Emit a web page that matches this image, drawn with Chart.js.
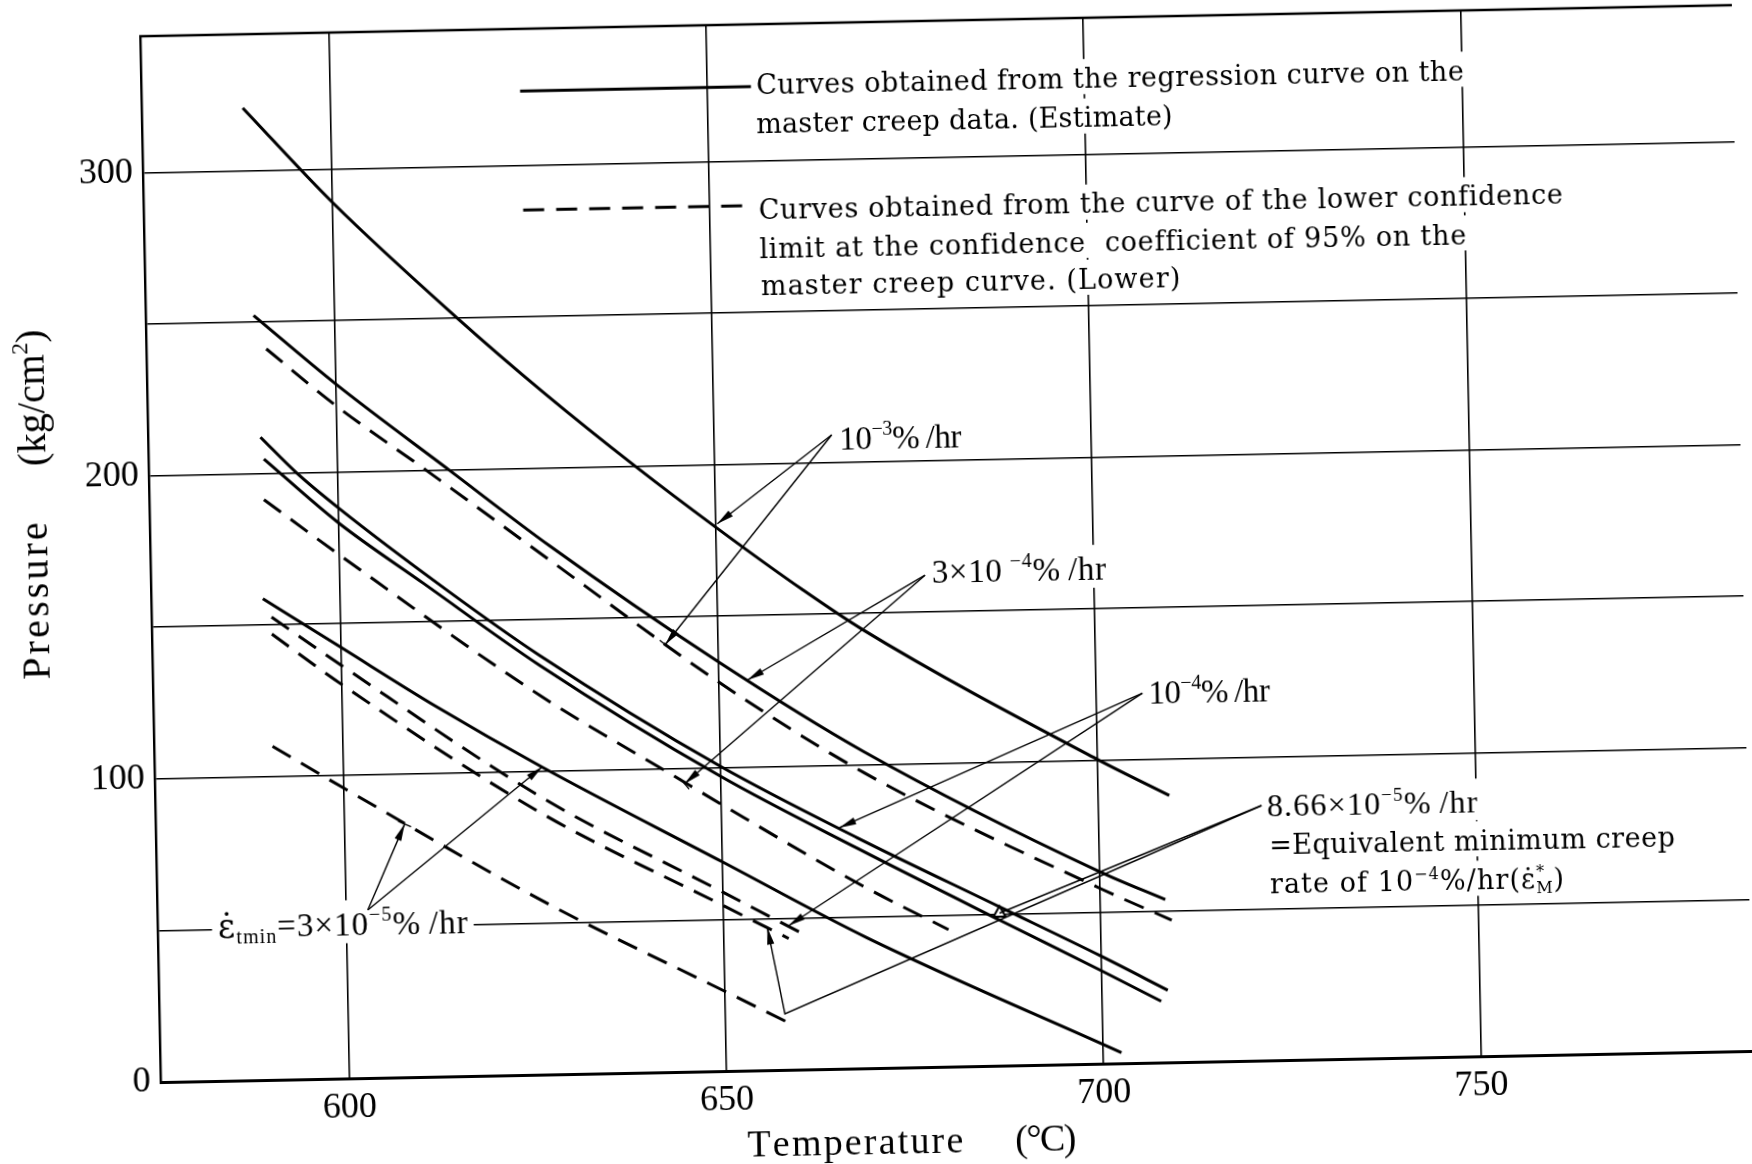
<!DOCTYPE html>
<html>
<head>
<meta charset="utf-8">
<title>Creep rate curves: pressure vs temperature</title>
<script src="https://cdn.jsdelivr.net/npm/chart.js@4.4.1/dist/chart.umd.min.js"></script>
<style>
  html, body { margin: 0; padding: 0; background: #ffffff; overflow: hidden; }
  /* the printed sheet sits slightly askew */
  #c { display: block; width: 1752px; height: 1164px; transform: rotate(-1.12deg); transform-origin: 876px 582px; }
</style>
</head>
<body>
<canvas id="c" width="1752" height="1164"></canvas>
<script>
// ---- Curve data: temperature (°C) and pressure (kg/cm²) ----
// Estimate curves (regression on master creep data), solid
const tEst1e3 = [588.4, 600, 616.3, 627.5, 639.5, 650, 661.3, 669, 700, 709.4];
const pEst1e3 = [320.7, 289.1, 250, 225, 200, 179.4, 158.3, 145, 100.3, 88];

const tEst3e4 = [589.3, 600, 614.8, 627.9, 650, 669, 700, 708.6];
const pEst3e4 = [252.2, 229.1, 200, 174.4, 135, 104.5, 63.3, 53.7];

const tEst1e4 = [589.9, 594.6, 600, 614.1, 626.3, 650, 668, 686.6, 700, 708.7];
const pEst1e4 = [212, 200, 188.3, 160.6, 138.3, 100.5, 76, 52.4, 35.4, 23.8];

const tEst866e5 = [590.3, 600, 611.1, 626.3, 650, 668, 686.6, 700, 707.8];
const pEst866e5 = [204.8, 183.3, 162.8, 135, 97.2, 72.5, 48, 30.6, 20.2];

const tEst3e5 = [589.8, 600, 612.4, 626.3, 650, 669, 702.4];
const pEst3e5 = [158.7, 142.2, 122.2, 101.5, 69, 43, 3.5];

// Lower confidence limit curves (95 %), dashed
const tLow1e3 = [590.9, 600, 611.8, 628.5, 650, 669, 700, 709.4];
const pLow1e3 = [241.1, 221.9, 200, 168.5, 128.3, 97.5, 57.8, 46.9];

const tLow3e4 = [590.2, 600, 626.3, 645.2, 650, 669, 679.8];
const pLow3e4 = [191.4, 172.8, 125, 95.5, 88, 59.5, 45.2];

const tLow1e4 = [590.9, 600, 626.5, 650, 660.3];
const pLow1e4 = [152.6, 136.3, 91, 59, 45];

const tLow866e5 = [590.9, 600, 626.3, 650, 658.6];
const pLow866e5 = [147, 130, 86, 54.6, 43.3];

const tLow3e5 = [590.7, 600, 627, 650, 658.3];
const pLow3e5 = [110, 95.8, 56, 26.3, 15.6];

// Equivalent minimum creep rate point (open triangle)
const tEquiv = [686.6];
const pEquiv = [50.3];

// Axis ranges and tick labels
const tempRange = [575, 786];
const presRange = [0, 345];
const tempTickStep = 50;
const presGridStep = 50;
const presLabelStep = 100;

// ---- Styling ----
const SERIF = "'Liberation Serif', 'Times New Roman', serif";
const BOOK = "'DejaVu Serif', 'Liberation Serif', serif";
const INK = '#000000';
const DASH = [21, 12];

function pts(ts, ps) { return ts.map((t, i) => ({ x: t, y: ps[i] })); }

function curve(ts, ps, dashed) {
  return {
    data: pts(ts, ps),
    borderColor: INK,
    borderWidth: 3,
    borderDash: dashed ? DASH : [],
    borderCapStyle: 'butt',
    pointRadius: 0,
    fill: false,
    cubicInterpolationMode: 'monotone'
  };
}

const datasets = [
  curve(tEst1e3, pEst1e3, false),
  curve(tEst3e4, pEst3e4, false),
  curve(tEst1e4, pEst1e4, false),
  curve(tEst866e5, pEst866e5, false),
  curve(tEst3e5, pEst3e5, false),
  curve(tLow1e3, pLow1e3, true),
  curve(tLow3e4, pLow3e4, true),
  curve(tLow1e4, pLow1e4, true),
  curve(tLow866e5, pLow866e5, true),
  curve(tLow3e5, pLow3e5, true),
  {
    data: pts(tEquiv, pEquiv),
    showLine: false,
    pointStyle: 'triangle',
    pointRadius: 7,
    pointBorderWidth: 2,
    pointBorderColor: INK,
    pointBackgroundColor: '#ffffff'
  }
];

// ---- Text annotations, placed in (°C, kg/cm²) units ----
// x0/x1: start/end of the line of text, y: vertical centre of the line
const THIN = '\u2009';
const textItems = [
  { x0: 656.5, x1: 750.3, y: 325.0, size: 27, family: BOOK, segs: [{ t: 'Curves obtained from the regression curve on the' }] },
  { x0: 656.4, x1: 711.6, y: 312.0, size: 27, family: BOOK, segs: [{ t: 'master creep data. (Estimate)' }] },
  { x0: 656.5, x1: 763.1, y: 283.6, size: 27, family: BOOK, segs: [{ t: 'Curves obtained from the curve of the lower confidence' }] },
  { x0: 656.5, x1: 750.2, y: 271.0, size: 27, family: BOOK, segs: [{ t: 'limit at the confidence  coefficient of 95% on the' }] },
  { x0: 656.6, x1: 712.2, y: 258.8, size: 27, family: BOOK, segs: [{ t: 'master creep curve. (Lower)' }] },

  { x0: 666.6, x1: 682.8, y: 207.9, size: 33, family: SERIF, segs: [{ t: '10' }, { t: '−3', sup: true }, { t: '%' + THIN + '/hr' }] },
  { x0: 678.5, x1: 701.6, y: 163.3, size: 33, family: SERIF, segs: [{ t: '3×10' + THIN }, { t: '−4', sup: true }, { t: '%' + THIN + '/hr' }] },
  { x0: 706.9, x1: 723.0, y: 122.2, size: 33, family: SERIF, segs: [{ t: '10' }, { t: '−4', sup: true }, { t: '%' + THIN + '/hr' }] },
  { x0: 722.3, x1: 750.2, y: 84.0, size: 32, family: SERIF, segs: [{ t: '8.66×10' }, { t: '−5', sup: true }, { t: '%' + THIN + '/hr' }] },
  { x0: 722.5, x1: 776.3, y: 71.1, size: 27, family: BOOK, segs: [{ t: '=Equivalent minimum creep' }] },
  { x0: 722.5, x1: 761.5, y: 58.1, size: 27, family: BOOK, segs: [{ t: 'rate of 10' }, { t: '−4', sup: true }, { t: '%/hr(' }, { t: 'ε̇' }, { stack: ['*', 'M'] }, { t: ')' }] },
  { x0: 583.0, x1: 616.1, y: 50.9, size: 33, family: SERIF, segs: [{ t: 'ε̇', family: BOOK }, { t: 'tmin', sub: true }, { t: '=3×10' }, { t: '−5', sup: true }, { t: '%' + THIN + '/hr' }] },

  // axis title under the temperature axis
  { x0: 652.6, x1: 681.2, y: -24, size: 38, family: SERIF, mask: false, segs: [{ t: 'Temperature' }] },
  { x0: 688.1, x1: 696.2, y: -24, size: 38, family: SERIF, mask: false, segs: [{ t: '(°C)' }] }
];

// vertical axis title, reading upwards; x: centre temperature, p0/p1 bottom/top pressure
const verticalItems = [
  { x: 559.6, p0: 133.5, p1: 185.4, size: 40, family: SERIF, segs: [{ t: 'Pressure' }] },
  { x: 559.6, p0: 203.9, p1: 249.0, size: 40, family: SERIF, segs: [{ t: '(kg/cm' }, { t: '2', sup: true }, { t: ')' }] }
];

// Leader lines from labels to curves; head: arrowhead at the end, bar: short cross bar at the end
const leaders = [
  { path: [[665.6, 209.1], [650.2, 180.5]], head: true },
  { path: [[665.6, 209.1], [643.0, 141.0]], head: true, bar: true },
  { path: [[677.6, 162.2], [653.8, 128.8]], head: true },
  { path: [[677.6, 162.2], [645.2, 95.0]], head: true, bar: true },
  { path: [[706.1, 121.9], [665.6, 79.5]], head: true },
  { path: [[706.1, 121.9], [658.6, 47.5]], head: true },
  { path: [[721.6, 84.1], [686.6, 50.3]], head: false },
  { path: [[721.6, 84.1], [657.9, 18.5], [655.8, 47.0]], head: true },
  { path: [[602.9, 55.4], [608.0, 83.5]], head: true, bar: true },
  { path: [[602.9, 55.4], [626.4, 101.5]], head: true }
];

// Line-style key samples
const keySamples = [
  { from: 625.2, to: 655.8, y: 324.5, dash: [] },
  { from: 625.3, to: 655.0, y: 285.2, dash: DASH }
];

// ---- Rich text helpers ----
const segmenter = (typeof Intl !== 'undefined' && Intl.Segmenter) ? new Intl.Segmenter('en', { granularity: 'grapheme' }) : null;
function graphemes(s) { return segmenter ? Array.from(segmenter.segment(s), x => x.segment) : Array.from(s); }

function fontOf(kind, size, family) {
  const s = kind === 'base' ? size : Math.round(size * 0.6);
  return s + 'px ' + family;
}

function buildRuns(ctx, item) {
  const runs = [];
  item.segs.forEach(seg => {
    const fam = seg.family || item.family;
    if (seg.stack) {
      ctx.font = fontOf('sup', item.size, fam);
      const w = Math.max(ctx.measureText(seg.stack[0]).width, ctx.measureText(seg.stack[1]).width);
      runs.push({ kind: 'stack', sup: seg.stack[0], sub: seg.stack[1], family: fam, w });
    } else {
      const kind = seg.sup ? 'sup' : (seg.sub ? 'sub' : 'base');
      graphemes(seg.t).forEach(g => {
        ctx.font = fontOf(kind, item.size, fam);
        runs.push({ kind, g, family: fam, w: ctx.measureText(g).width });
      });
    }
  });
  return runs;
}

function layoutRuns(runs, span) {
  const natural = runs.reduce((a, r) => a + r.w, 0);
  const sp = runs.length > 1 ? (span - natural) / (runs.length - 1) : 0;
  return { sp, width: natural + sp * (runs.length - 1) };
}

function drawRuns(ctx, runs, x, baseline, size, sp) {
  ctx.fillStyle = INK;
  ctx.textBaseline = 'alphabetic';
  ctx.textAlign = 'left';
  runs.forEach(r => {
    if (r.kind === 'stack') {
      ctx.font = fontOf('sup', size, r.family);
      ctx.fillText(r.sup, x, baseline - size * 0.42);
      ctx.fillText(r.sub, x, baseline + size * 0.18);
    } else {
      ctx.font = fontOf(r.kind, size, r.family);
      const dy = r.kind === 'sup' ? -size * 0.42 : (r.kind === 'sub' ? size * 0.2 : 0);
      ctx.fillText(r.g, x, baseline + dy);
    }
    x += r.w + sp;
  });
}

function placeText(chart, item) {
  const ctx = chart.ctx;
  const xs = chart.scales.x, ys = chart.scales.y;
  const runs = buildRuns(ctx, item);
  const x0 = xs.getPixelForValue(item.x0);
  const x1 = xs.getPixelForValue(item.x1);
  const lay = layoutRuns(runs, x1 - x0);
  return { runs, x0, sp: lay.sp, width: lay.width, cy: ys.getPixelForValue(item.y) };
}

function drawArrowHead(ctx, x1, y1, x2, y2, withBar) {
  const a = Math.atan2(y2 - y1, x2 - x1);
  const len = 17, half = 3.6;
  ctx.beginPath();
  ctx.moveTo(x2, y2);
  ctx.lineTo(x2 - len * Math.cos(a) + half * Math.sin(a), y2 - len * Math.sin(a) - half * Math.cos(a));
  ctx.lineTo(x2 - len * Math.cos(a) - half * Math.sin(a), y2 - len * Math.sin(a) + half * Math.cos(a));
  ctx.closePath();
  ctx.fill();
  if (withBar) {
    const b = 7;
    ctx.beginPath();
    ctx.moveTo(x2 + b * Math.sin(a), y2 - b * Math.cos(a));
    ctx.lineTo(x2 - b * Math.sin(a), y2 + b * Math.cos(a));
    ctx.stroke();
  }
}

// ---- Plugin: frame, masks behind labels, labels, leaders and key ----
const annotate = {
  id: 'annotate',
  beforeDraw(chart) {
    const ctx = chart.ctx;
    ctx.save();
    ctx.fillStyle = '#ffffff';
    ctx.fillRect(0, 0, chart.width, chart.height);
    ctx.restore();
  },
  beforeDatasetsDraw(chart) {
    const ctx = chart.ctx;
    ctx.save();
    ctx.fillStyle = '#ffffff';
    textItems.forEach(item => {
      if (item.mask === false) return;
      const p = placeText(chart, item);
      ctx.fillRect(p.x0 - 6, p.cy - item.size * 0.72, p.width + 12, item.size * 1.3);
    });
    ctx.restore();
  },
  afterDatasetsDraw(chart) {
    const ctx = chart.ctx;
    const xs = chart.scales.x, ys = chart.scales.y;
    const area = chart.chartArea;
    ctx.save();

    // top edge of the frame
    ctx.strokeStyle = INK;
    ctx.lineWidth = 2.4;
    ctx.beginPath();
    ctx.moveTo(area.left - 1, area.top);
    ctx.lineTo(area.right, area.top);
    ctx.stroke();

    // key samples
    ctx.lineWidth = 3;
    keySamples.forEach(k => {
      ctx.setLineDash(k.dash);
      ctx.beginPath();
      ctx.moveTo(xs.getPixelForValue(k.from), ys.getPixelForValue(k.y));
      ctx.lineTo(xs.getPixelForValue(k.to), ys.getPixelForValue(k.y));
      ctx.stroke();
    });
    ctx.setLineDash([]);

    // leader lines
    ctx.lineWidth = 1.4;
    ctx.fillStyle = INK;
    leaders.forEach(l => {
      const px = l.path.map(p => [xs.getPixelForValue(p[0]), ys.getPixelForValue(p[1])]);
      ctx.beginPath();
      ctx.moveTo(px[0][0], px[0][1]);
      for (let i = 1; i < px.length; i++) ctx.lineTo(px[i][0], px[i][1]);
      ctx.stroke();
      if (l.head) {
        const a = px[px.length - 2], b = px[px.length - 1];
        drawArrowHead(ctx, a[0], a[1], b[0], b[1], l.bar);
      }
    });

    // horizontal labels
    textItems.forEach(item => {
      const p = placeText(chart, item);
      drawRuns(ctx, p.runs, p.x0, p.cy + item.size * 0.34, item.size, p.sp);
    });

    // vertical axis title
    verticalItems.forEach(item => {
      const runs = buildRuns(ctx, item);
      const cx = xs.getPixelForValue(item.x);
      const yb = ys.getPixelForValue(item.p0);
      const yt = ys.getPixelForValue(item.p1);
      const lay = layoutRuns(runs, yb - yt);
      ctx.save();
      ctx.translate(cx, yb);
      ctx.rotate(-Math.PI / 2);
      drawRuns(ctx, runs, 0, item.size * 0.34, item.size, lay.sp);
      ctx.restore();
    });

    ctx.restore();
  }
};

new Chart(document.getElementById('c'), {
  type: 'line',
  data: { datasets },
  plugins: [annotate],
  options: {
    responsive: false,
    animation: false,
    devicePixelRatio: 1,
    layout: { padding: { top: 22, right: 0, bottom: 0, left: 0 } },
    plugins: { legend: { display: false }, tooltip: { enabled: false } },
    scales: {
      x: {
        type: 'linear',
        min: tempRange[0],
        max: tempRange[1],
        afterFit(scale) { scale.height = 96; scale.paddingLeft = 0; scale.paddingRight = 0; },
        ticks: {
          stepSize: tempTickStep,
          includeBounds: false,
          maxRotation: 0,
          autoSkip: false,
          padding: 8,
          color: INK,
          font: { family: SERIF, size: 36 }
        },
        grid: { color: INK, lineWidth: 1.6, drawTicks: false },
        border: { color: INK, width: 3 }
      },
      y: {
        type: 'linear',
        min: presRange[0],
        max: presRange[1],
        afterFit(scale) { scale.width = 151; scale.paddingTop = 0; scale.paddingBottom = 0; },
        ticks: {
          stepSize: presGridStep,
          includeBounds: false,
          autoSkip: false,
          padding: 10,
          color: INK,
          font: { family: SERIF, size: 36 },
          callback: v => (v % presLabelStep === 0 ? String(v) : '')
        },
        grid: { color: INK, lineWidth: 1.6, drawTicks: false },
        border: { color: INK, width: 2.4 }
      }
    }
  }
});
</script>
</body>
</html>
